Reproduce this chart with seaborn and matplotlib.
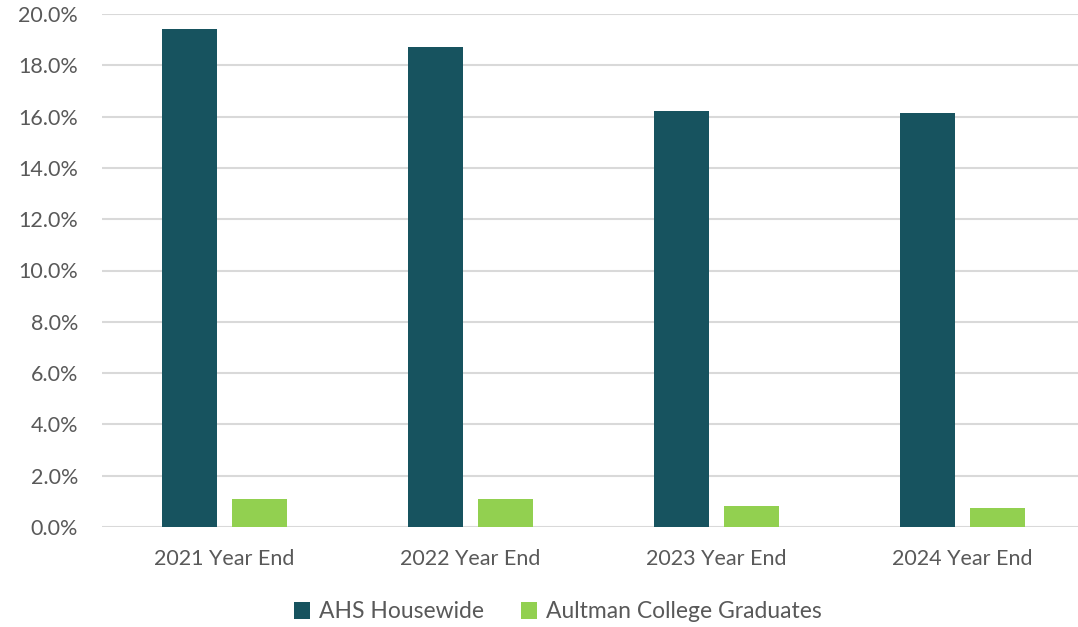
import pandas as pd
import matplotlib.pyplot as plt
from matplotlib.patches import Patch
from matplotlib.ticker import PercentFormatter
import seaborn as sns

sns.set_theme(style="white")
plt.rcParams['font.family'] = ['Lato', 'DejaVu Sans']

periods = ["2021 Year End", "2022 Year End", "2023 Year End", "2024 Year End"]
housewide = [19.4, 18.7, 16.2, 16.15]
graduates = [1.1, 1.1, 0.8, 0.75]
series = ["AHS Housewide", "Aultman College Graduates"]
colors = ["#17535f", "#92d050"]

df = pd.DataFrame({
    "period": periods * 2,
    "series": [series[0]] * 4 + [series[1]] * 4,
    "value": housewide + graduates,
})

text_color = "#595959"
fig = plt.figure(figsize=(10.78, 6.27), dpi=100)
ax = fig.add_axes([101.7 / 1078, 1 - 527 / 627, (1085 - 101.7) / 1078, (527 - 14) / 627])

sns.barplot(data=df, x="period", y="value", hue="series", palette=colors,
            saturation=1, width=0.57, gap=0.214, linewidth=0, legend=False, ax=ax)

ax.set_ylim(0, 20)
ax.set_xlim(-0.5, 3.5)
ax.set_yticks(range(0, 21, 2))
ax.yaxis.set_major_formatter(PercentFormatter(decimals=1))
ax.grid(axis="y", color="#d9d9d9", linewidth=1.5)
ax.set_axisbelow(True)
for s in ax.spines.values():
    s.set_visible(False)
ax.set_xlabel("")
ax.set_ylabel("")
ax.tick_params(axis="y", length=0, pad=17, labelsize=15.5, labelcolor=text_color)
ax.tick_params(axis="x", length=0, pad=16, labelsize=15.5, labelcolor=text_color)

handles = [Patch(facecolor=c, edgecolor="none", label=l) for c, l in zip(colors, series)]
fig.legend(handles=handles, loc="center", bbox_to_anchor=(558 / 1078, 1 - 612 / 627),
           ncol=2, frameon=False, fontsize=16.5, labelcolor=text_color,
           handlelength=0.7, handleheight=0.7, handletextpad=0.4, columnspacing=1.6)

fig.savefig("out.png", dpi=100)
